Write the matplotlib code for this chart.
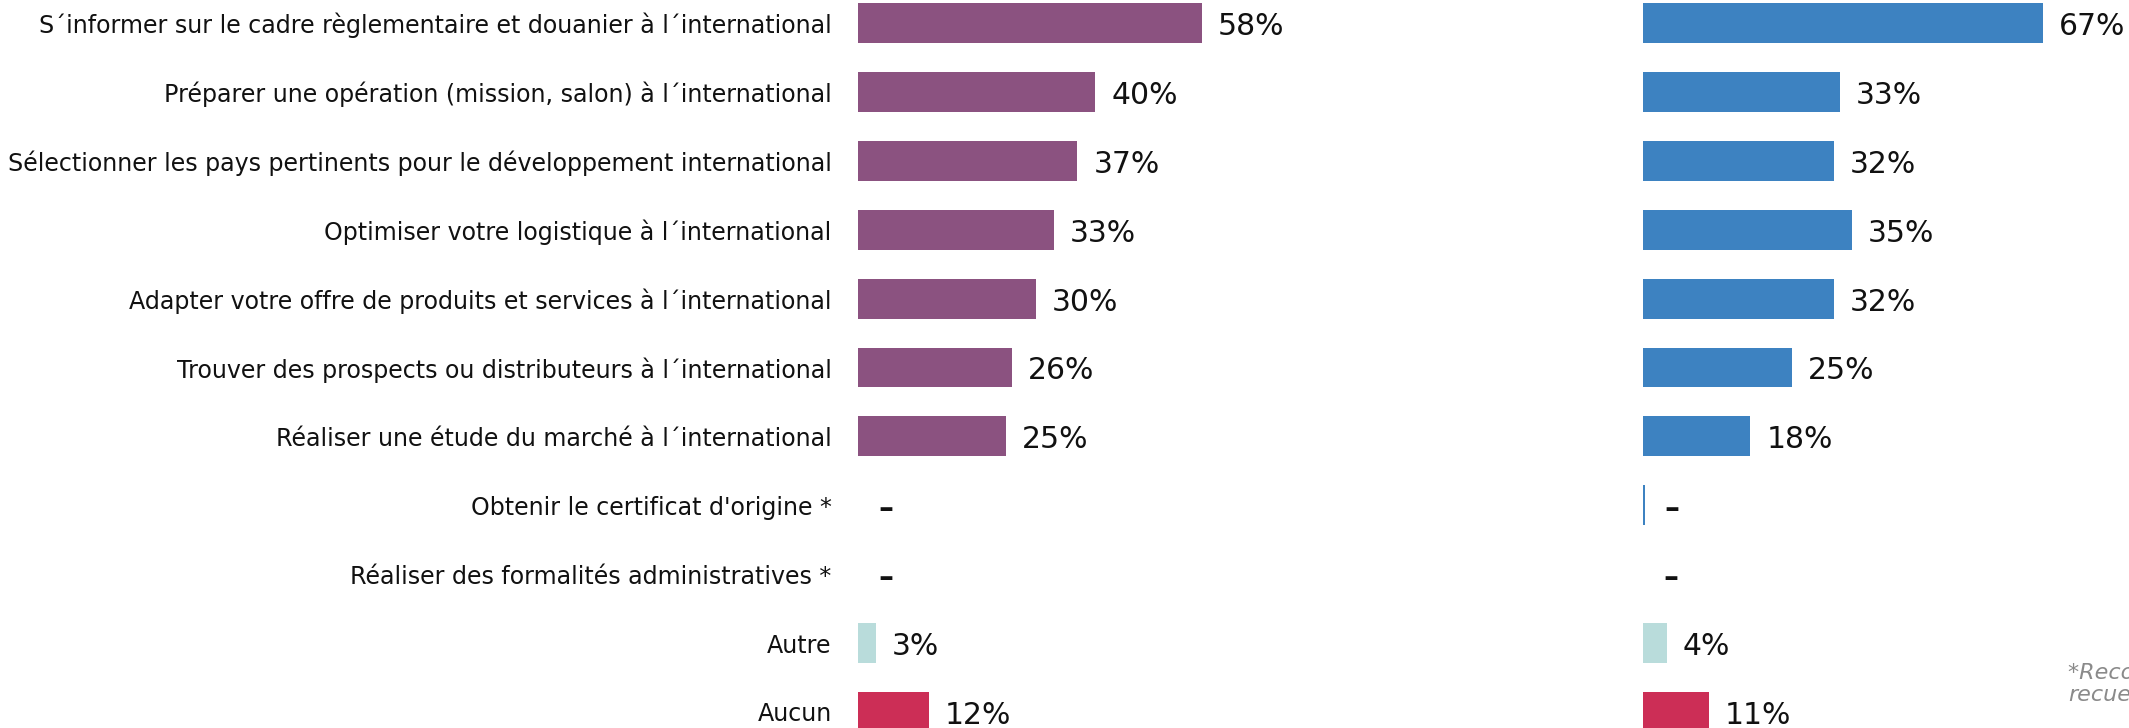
import matplotlib
matplotlib.use("Agg")
import matplotlib.pyplot as plt

categories = [
    "S´informer sur le cadre règlementaire et douanier à l´international",
    "Préparer une opération (mission, salon) à l´international",
    "Sélectionner les pays pertinents pour le développement international",
    "Optimiser votre logistique à l´international",
    "Adapter votre offre de produits et services à l´international",
    "Trouver des prospects ou distributeurs à l´international",
    "Réaliser une étude du marché à l´international",
    "Obtenir le certificat d'origine *",
    "Réaliser des formalités administratives *",
    "Autre",
    "Aucun",
]
left_values = [58, 40, 37, 33, 30, 26, 25, None, None, 3, 12]
right_values = [67, 33, 32, 35, 32, 25, 18, 0.3, None, 4, 11]
right_labels = ["67%", "33%", "32%", "35%", "32%", "25%", "18%", "–", "–", "4%", "11%"]
left_labels = ["58%", "40%", "37%", "33%", "30%", "26%", "25%", "–", "–", "3%", "12%"]
footnote = "*Recodification des réponses\nrecueillies"

purple = "#8B5280"
blue = "#3D82C1"
teal = "#B9DCDB"
red = "#CC2E56"
left_colors = [purple] * 9 + [teal, red]
right_colors = [blue] * 9 + [teal, red]

plt.rcParams['font.family'] = ['DejaVu Sans']

W, H = 2129, 728
fig = plt.figure(figsize=(W / 100, H / 100), dpi=100)

row_px = 68.9
top_px = 23
ytop = -top_px / row_px
ybot = 10 + (H - top_px - 10 * row_px) / row_px

lx0, rx0 = 858, 1643
lscale, rscale = 5.93, 5.97

axL = fig.add_axes([lx0 / W, 0, (rx0 - lx0) / W, 1])
axR = fig.add_axes([rx0 / W, 0, (W - rx0) / W, 1])
axL.set_xlim(0, (rx0 - lx0) / lscale)
axR.set_xlim(0, (W - rx0) / rscale)

ys = list(range(len(categories)))
for ax, vals, cols, labs, scale in [(axL, left_values, left_colors, left_labels, lscale),
                                    (axR, right_values, right_colors, right_labels, rscale)]:
    ax.set_ylim(ybot, ytop)
    for y, v, c, lab in zip(ys, vals, cols, labs):
        vv = 0 if v is None else v
        if v is not None:
            ax.barh(y, vv, height=0.58, color=c, edgecolor='none')
        is_dash = lab == "–"
        ax.text(vv + (20 if is_dash else 16) / scale, y + 0.05, lab, va='center', ha='left',
                fontsize=21.5, color='#111111', fontweight='bold' if is_dash else 'normal')
    for s in ax.spines.values():
        s.set_visible(False)
    ax.set_xticks([])
    ax.set_yticks([])
    ax.patch.set_alpha(0)

axL.set_yticks(ys)
axL.set_yticklabels(categories, fontsize=17.1, color='#111111')
axL.tick_params(axis='y', length=0, pad=19)

fig.text(2068 / W, 1 - 683 / H, footnote, ha='left', va='center', fontsize=16,
         style='italic', color='#8A8A8A', linespacing=1.1)

fig.savefig("out.png", dpi=100)
